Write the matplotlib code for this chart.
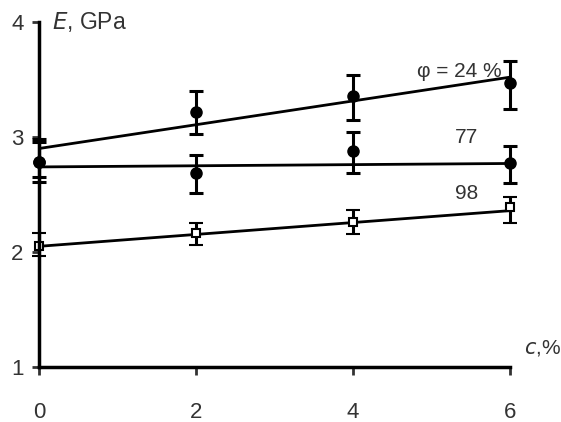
import numpy as np
import matplotlib
matplotlib.use('Agg')
import matplotlib.pyplot as plt

plt.rcParams['font.family'] = ['Liberation Sans', 'DejaVu Sans']

# additive content c, %
c = [0, 2, 4, 6]

# phi = 24 %
e24 = [2.78, 3.22, 3.36, 3.47]
lo24 = [0.17, 0.19, 0.21, 0.23]
hi24 = [0.20, 0.18, 0.18, 0.19]
# phi = 77 %
e77 = [2.78, 2.69, 2.88, 2.77]
lo77 = [0.13, 0.18, 0.19, 0.17]
hi77 = [0.18, 0.15, 0.16, 0.15]
# phi = 98 %
e98 = [2.05, 2.17, 2.26, 2.39]
lo98 = [0.08, 0.11, 0.10, 0.14]
hi98 = [0.12, 0.08, 0.11, 0.09]

# trend lines (value at c=0 and at c=6)
fit_c = [0, 6]
fit24 = [2.90, 3.52]
fit77 = [2.74, 2.77]
fit98 = [2.05, 2.36]

labels = ['\u03c6 = 24 %', '77', '98']
label_pos = [(5.35, 3.57), (5.45, 3.0), (5.45, 2.51)]

fig = plt.figure(figsize=(5.61, 4.22), dpi=100)
ax = fig.add_axes([0.0695, 0.130, 0.8395, 0.818])

ekw = dict(color='black', ecolor='black', elinewidth=2.2, capsize=5, capthick=2.2, linestyle='none')
conts = [
    ax.errorbar(c, e24, yerr=[lo24, hi24], marker='o', markersize=8, markerfacecolor='black', **ekw),
    ax.errorbar(c, e77, yerr=[lo77, hi77], marker='o', markersize=8, markerfacecolor='black', **ekw),
    ax.errorbar(c, e98, yerr=[lo98, hi98], marker='s', markersize=6, markerfacecolor='white',
                markeredgewidth=1.5, **ekw),
]
for cont in conts:
    for art in cont.get_children():
        art.set_clip_on(False)

for f in (fit24, fit77, fit98):
    ax.plot(fit_c, f, color='black', linewidth=2.0)

for t, (x, y) in zip(labels, label_pos):
    ax.text(x, y, t, fontsize=15, ha='center', va='center', color='#333333')

ax.set_xlim(0, 6)
ax.set_ylim(1, 4)
ax.set_xticks([0, 2, 4, 6])
ax.set_yticks([1, 2, 3, 4])
for s in ('top', 'right'):
    ax.spines[s].set_visible(False)
for s in ('left', 'bottom'):
    ax.spines[s].set_linewidth(2.5)
ax.tick_params(axis='x', direction='out', length=6, width=2, pad=19, labelsize=16, colors='#333333')
ax.tick_params(axis='y', direction='out', length=5, width=2, pad=6, labelsize=16, colors='#333333')

ax.text(0.16, 4.0, '$E$, GPa', fontsize=16.5, ha='left', va='center', color='#333333')
ax.text(6.18, 1.17, '$c$,%', fontsize=15, ha='left', va='center', color='#333333', clip_on=False)

fig.savefig('out.png', dpi=100)
